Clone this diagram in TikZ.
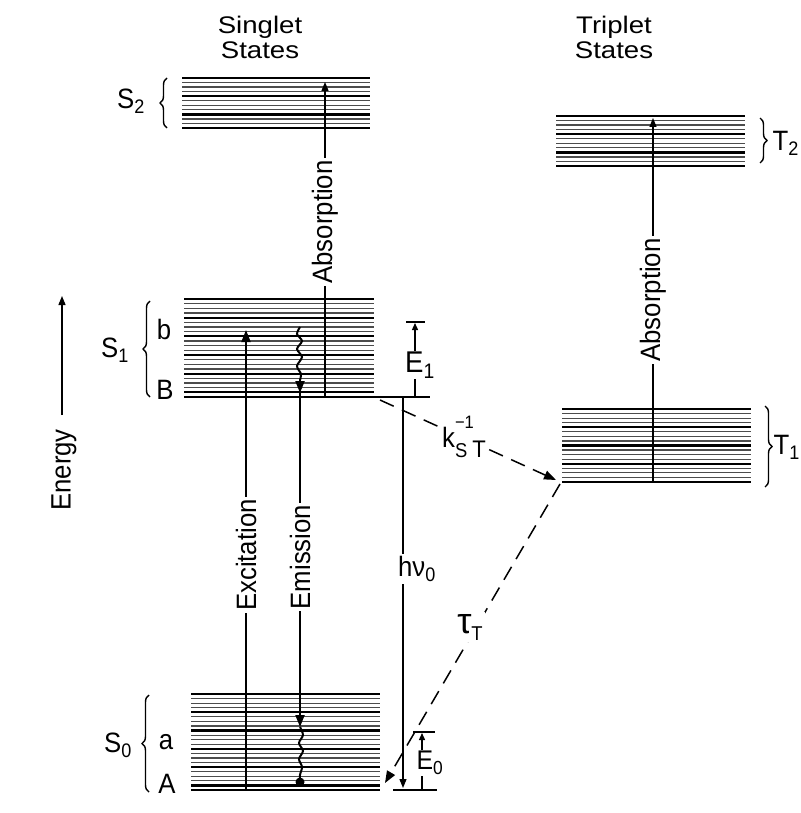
\documentclass[tikz,border=0pt]{standalone}
\usepackage{fontspec}
\usepackage{graphicx}
\setmainfont{Liberation Sans}
\newfontfamily\headfont[FakeStretch=1.15]{Liberation Sans}
\newfontfamily\lblfont[FakeStretch=0.92]{Liberation Sans}
\usetikzlibrary{arrows.meta,decorations.pathreplacing}
\newcommand{\lsz}[1]{\fontsize{#1}{#1}\selectfont}

\tikzset{
  thickbar/.style={line width=2.3pt, black},
  thinbar/.style={line width=1.2pt, black!70},
  levelbox/.style={rectangle, inner sep=0pt, outer sep=0pt},
  tip/.style={-{Triangle[length=9pt,width=7pt]}},
  bigtip/.style={-{Triangle[length=12pt,width=9pt]}},
  smalltip/.style={-{Triangle[length=7pt,width=6pt]}},
  mainline/.style={line width=2pt},
  thinline/.style={line width=1.3pt},
  dashline/.style={line width=1.5pt, dash pattern=on 15pt off 9pt},
  lbl/.style={inner sep=1pt, font=\lblfont\lsz{28}},
  cut/.style={fill=white, inner sep=2pt},
  lbrace/.style={decorate, decoration={brace, amplitude=7pt}, line width=1.4pt},
}

\newcommand{\levelbars}[4]{%
  \pgfmathtruncatemacro{\nb}{round((#4-#3)/4.6)}%
  \pgfmathtruncatemacro{\nbm}{\nb-1}%
  \foreach \k in {1,...,\nbm}{%
    \pgfmathsetmacro{\yy}{#3+(#4-#3)*\k/\nb}%
    \pgfmathtruncatemacro{\mm}{mod(\k,4)}%
    \ifnum\mm=0\relax
      \draw[thickbar] (#1,\yy) -- (#2,\yy);
    \else
      \draw[thinbar] (#1,\yy) -- (#2,\yy);
    \fi
  }%
  \draw[thickbar] (#1,#3) -- (#2,#3);
  \draw[thickbar] (#1,#4) -- (#2,#4);
}

\begin{document}
\begin{tikzpicture}[x=1pt,y=-1pt]
\fill[white] (0,0) rectangle (800,813);
\useasboundingbox (0,0) rectangle (800,813);

% headings
\node[align=center, font=\headfont\fontsize{24}{25}\selectfont] (singlet) at (260,37) {Singlet\\States};
\node[align=center, font=\headfont\fontsize{24}{25}\selectfont] (triplet) at (614,37) {Triplet\\States};

% level boxes
\node[levelbox, minimum width=188pt, minimum height=50pt] (S2) at (276,103) {};
\node[levelbox, minimum width=190pt, minimum height=98pt] (S1) at (279,348) {};
\node[levelbox, minimum width=189pt, minimum height=96pt] (S0) at (285.5,742) {};
\node[levelbox, minimum width=189pt, minimum height=50pt] (T2) at (650.5,141) {};
\node[levelbox, minimum width=189pt, minimum height=73pt] (T1) at (656.5,445.5) {};
\levelbars{182}{370}{78}{128}
\levelbars{184}{374}{299}{397}
\levelbars{191}{380}{694}{790}
\levelbars{556}{745}{116}{166}
\levelbars{562}{751}{409}{482}

% braces and state labels
\draw[lbrace] (167,128) -- (167,78);
\draw[lbrace] (150,397) -- (150,301);
\draw[lbrace] (149,792) -- (149,695);
\draw[lbrace] (760,118) -- (760,163);
\draw[lbrace] (765,406) -- (765,487);
\node[lbl] (lS2) at (131,101) {S\textsubscript{2}};
\node[lbl] (lS1) at (115,350) {S\textsubscript{1}};
\node[lbl] (lS0) at (118,745) {S\textsubscript{0}};
\node[lbl, anchor=east, inner sep=0pt] (lT2) at (799,143) {T\textsubscript{2}};
\node[lbl, anchor=east, inner sep=0pt] (lT1) at (800,447) {T\textsubscript{1}};
\node[lbl] (lb) at (164,329) {b};
\node[lbl] (lB) at (165,390) {B};
\node[lbl] (la) at (166,742) {a};
\node[lbl] (lA) at (167,784) {A};

% energy axis
\coordinate (enBot) at (62,415);
\coordinate (enTop) at (62,296);
\draw[thinline, tip] (enBot) -- (enTop);
\node[lbl, rotate=90] (energy) at (64,470) {Energy};

% singlet absorption
\coordinate (abS1) at (325,397);
\coordinate (abS2) at (325,82);
\draw[thinline, tip] (abS1) -- (abS2);
\node[lbl, cut, rotate=90] (absS) at (325,222) {Absorption};

% triplet absorption
\coordinate (abT1) at (653,482);
\coordinate (abT2) at (653,118);
\draw[thinline, tip] (abT1) -- (abT2);
\node[lbl, cut, rotate=90] (absT) at (653,300) {Absorption};

% excitation
\coordinate (exA) at (246,790);
\coordinate (exB) at (246,330);
\draw[mainline, bigtip] (exA) -- (exB);
\node[lbl, cut, rotate=90] (excit) at (246,555) {Excitation};

% emission
\coordinate (emTop) at (300,327);
\coordinate (emW) at (300,380);
\coordinate (emB) at (300,393);
\coordinate (emA) at (300,727);
\coordinate (emEnd) at (300,782);
\draw[mainline] plot[smooth] coordinates {(emTop) (297,334) (302,341) (297,349) (302,357) (297,366) (301,374) (emW)};
\draw[mainline, bigtip] (emW) -- (emB);
\draw[mainline, bigtip] (emB) -- (emA);
\draw[mainline] plot[smooth] coordinates {(emA) (303,735) (299,743) (303,751) (299,759) (302,767) (300,775) (emEnd)};
\fill (emEnd) circle (4.5pt);
\node[lbl, cut, rotate=90] (emis) at (300,557) {Emission};

% B level extension and h nu
\coordinate (lvB) at (374,397);
\coordinate (lvBr) at (430,397);
\draw[thinline] (lvB) -- (lvBr);
\coordinate (hnTop) at (403,397);
\coordinate (hnBot) at (403,788);
\draw[thinline, tip] (hnTop) -- (hnBot);
\node[lbl, cut] (hnu) at (417,569) {hν\textsubscript{0}};

% E1
\coordinate (e1Bot) at (415,397);
\coordinate (e1Top) at (415,323);
\draw[thinline] (406,322) -- (425,322);
\draw[thinline, smalltip] (e1Bot) -- (e1Top);
\node[cut, inner sep=1pt, font=\lblfont\lsz{30}] (E1) at (420,365) {E\textsubscript{1}};

% E0
\coordinate (e0Bot) at (422,790);
\coordinate (e0Top) at (422,733);
\coordinate (lvAl) at (393,790);
\coordinate (lvAr) at (437,790);
\draw[thinline] (lvAl) -- (lvAr);
\draw[thinline] (413,732) -- (435,732);
\draw[thinline, smalltip] (e0Bot) -- (e0Top);
\node[cut, inner sep=1pt, font=\lblfont\lsz{27}] (E0) at (430,763) {E\textsubscript{0}};

% intersystem crossing
\coordinate (kStart) at (380,400);
\coordinate (kEnd) at (556,480);
\draw[dashline, bigtip] (kStart) -- (kEnd);
\node[cut, font=\lblfont\lsz{28}] (kst) at (464,437) {k\rlap{\raisebox{19pt}{\lsz{18}−1}}\raisebox{-10pt}{\lsz{20}S\hspace{5pt}\lsz{24}T}};

% triplet decay
\coordinate (tStart) at (560,484);
\coordinate (tEnd) at (385,783);
\draw[dashline, bigtip] (tStart) -- (tEnd);
\node[cut] (tau) at (470,627) {{\lsz{36}τ}\raisebox{-7pt}{\lblfont\lsz{20}T}};
\end{tikzpicture}
\end{document}
